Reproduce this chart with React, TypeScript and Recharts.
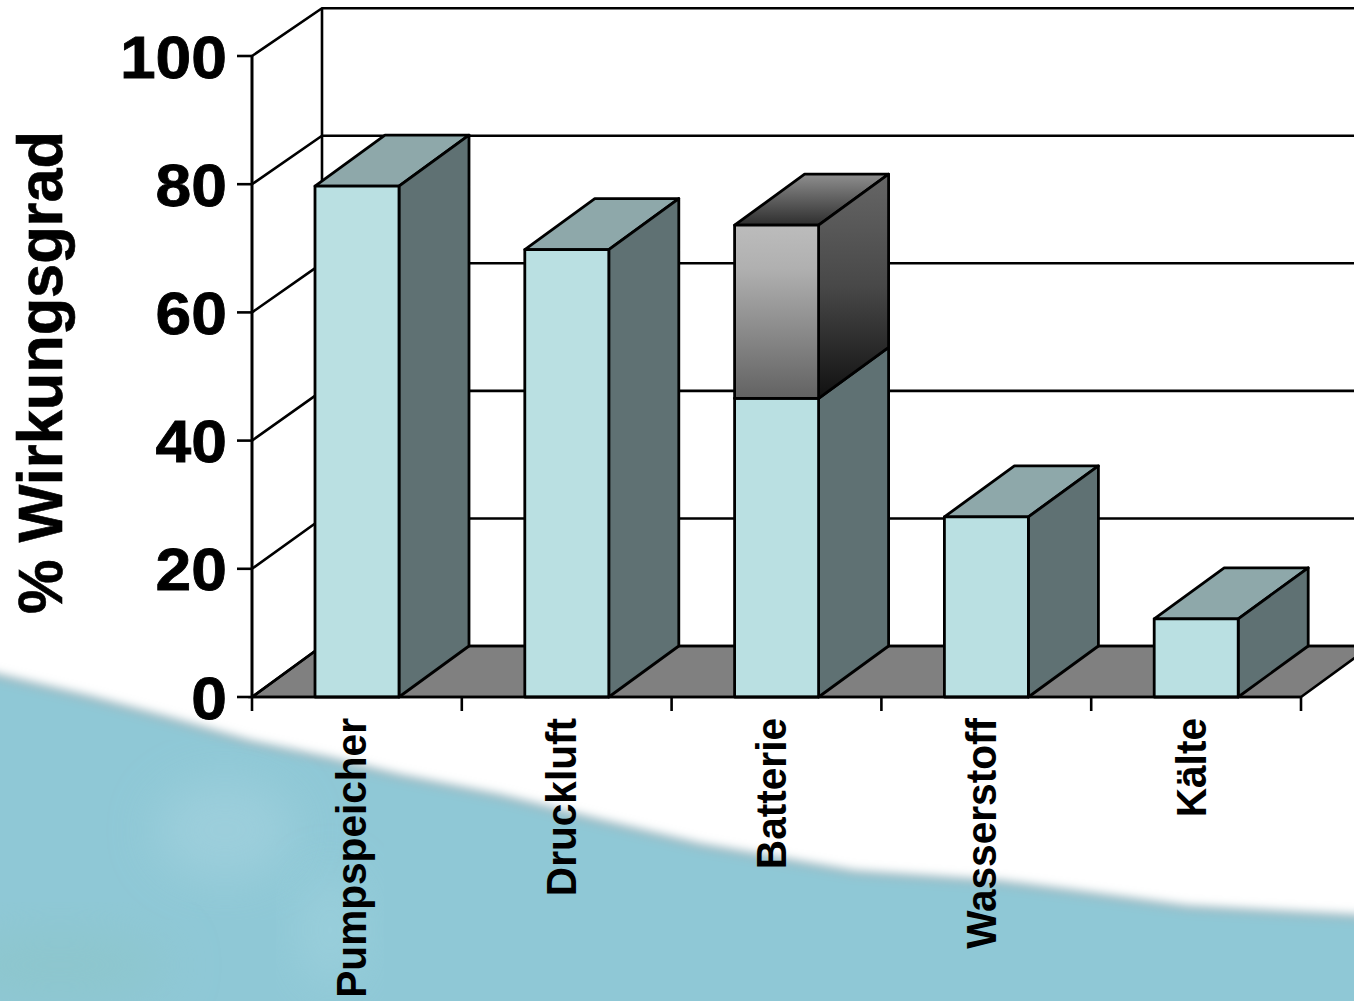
import React from 'react';
import { BarChart, Bar, XAxis, YAxis, CartesianGrid, Label } from 'recharts';

const categories = ['Pumpspeicher', 'Druckluft', 'Batterie', 'Wasserstoff', 'Kälte'];
const baseValues = [79.7, 69.8, 46.6, 28.1, 12.2];
const batteryValues = [0, 0, 27, 0, 0];
const yTicks = [0, 20, 40, 60, 80, 100];

const data = categories.map((name, i) => ({ name, base: baseValues[i], battery: batteryValues[i] }));

const W = 1354;
const H = 1001;
const LEFT = 252;
const TOP = 56;
const PLOT_W = 1049;
const PLOT_H = 641;
const DX = 70;
const DY = 51;
const SLOT = PLOT_W / categories.length;
const FONT = '"Liberation Sans", Arial, sans-serif';
const LINE = 2.6;

// back wall is very slightly shorter than the front edge
const backY = (y: number) => TOP + PLOT_H - DY - (TOP + PLOT_H - y) * 0.995;

// wall lines + floor, drawn per y tick
const gridLine = (props: any) => {
  const y = props.y1;
  const isFloor = Math.abs(y - (TOP + PLOT_H)) < 1;
  const isTop = Math.abs(y - TOP) < 1;
  const by = backY(y);
  return (
    <g key={props.key}>
      {isFloor && (
        <polygon
          points={`${LEFT},${y} ${LEFT + DX},${by} ${LEFT + PLOT_W + DX},${by} ${LEFT + PLOT_W},${y}`}
          fill="#808080"
          stroke="#000"
          strokeWidth={LINE}
        />
      )}
      {isTop && <line x1={LEFT + DX} y1={by} x2={LEFT + DX} y2={backY(TOP + PLOT_H)} stroke="#000" strokeWidth={LINE} />}
      <polyline points={`${LEFT},${y} ${LEFT + DX},${by} ${W},${by}`} fill="none" stroke="#000" strokeWidth={LINE} />
    </g>
  );
};

const Box = ({ x, y, width, height, front, side, top }: any) => {
  if (!height || height <= 0) return null;
  const r = x + width;
  const b = y + height;
  return (
    <g stroke="#000" strokeWidth={2.8} strokeLinejoin="round">
      <polygon points={`${x},${y} ${x + DX},${y - DY} ${r + DX},${y - DY} ${r},${y}`} fill={top} />
      <polygon points={`${r},${y} ${r + DX},${y - DY} ${r + DX},${b - DY} ${r},${b}`} fill={side} />
      <rect x={x} y={y} width={width} height={height} fill={front} />
    </g>
  );
};

const XTick = ({ x, payload }: any) => {
  const bottom = TOP + PLOT_H;
  const left = x - SLOT / 2;
  return (
    <g>
      <line x1={left} y1={bottom} x2={left} y2={bottom + 14} stroke="#000" strokeWidth={LINE} />
      {payload.index === categories.length - 1 && (
        <line x1={left + SLOT} y1={bottom} x2={left + SLOT} y2={bottom + 14} stroke="#000" strokeWidth={LINE} />
      )}
      <text
        transform={`translate(${x + 9.5},718) rotate(-90) scale(1,1.06)`}
        textAnchor="end"
        fontFamily={FONT}
        fontWeight="bold"
        fontSize={40.6}
        fill="#000"
      >
        {payload.value}
      </text>
    </g>
  );
};

const YTick = ({ y, payload }: any) => (
  <text
    transform={`translate(227,${y + 21.5}) scale(1.07,1)`}
    textAnchor="end"
    fontFamily={FONT}
    fontWeight="bold"
    fontSize={60}
    fill="#000"
    stroke="#000"
    strokeWidth={0.8}
  >
    {payload.value}
  </text>
);

const YTitle = () => (
  <text
    transform="translate(62,372.5) rotate(-90) scale(1,1.04)"
    textAnchor="middle"
    fontFamily={FONT}
    fontWeight="bold"
    fontSize={61.3}
    fill="#000"
    stroke="#000"
    strokeWidth={0.6}
  >
    % Wirkungsgrad
  </text>
);

// blue wave behind the chart
const WAVE =
  'M-20,671 L0,677 L88,698 L170,720 L250,743 L330,760 L400,777 L500,797 L600,822 L700,846 L854,873 L1000,883 L1070,892 L1187,908 L1354,917 L1380,919 L1380,1020 L-20,1020 Z';

const Backdrop = () => (
  <svg width={W} height={H} style={{ position: 'absolute', left: 0, top: 0 }}>
    <defs>
      <filter id="soft" x="-5%" y="-5%" width="110%" height="110%">
        <feGaussianBlur stdDeviation="5" />
      </filter>
      <filter id="softer" x="-40%" y="-40%" width="180%" height="180%">
        <feGaussianBlur stdDeviation="24" />
      </filter>
    </defs>
    <rect width={W} height={H} fill="#fff" />
    <path d={WAVE} fill="#8fc8d6" stroke="#9db8c0" strokeWidth={6} filter="url(#soft)" />
    <ellipse cx={225} cy={830} rx={70} ry={50} fill="#a2d1de" opacity={0.7} filter="url(#softer)" />
    <ellipse cx={330} cy={930} rx={30} ry={60} fill="#9fd2de" opacity={0.7} filter="url(#softer)" />
    <ellipse cx={60} cy={965} rx={110} ry={35} fill="#8dc6cd" filter="url(#softer)" />
  </svg>
);

export default function App() {
  return (
    <div style={{ position: 'absolute', left: 0, top: 0, width: W, height: H, overflow: 'hidden' }}>
      <Backdrop />
      <div style={{ position: 'absolute', left: 0, top: 0 }}>
        <BarChart
          width={W}
          height={H}
          data={data}
          margin={{ top: TOP, right: W - LEFT - PLOT_W, bottom: 0, left: 0 }}
          barSize={84}
        >
          <defs>
            <linearGradient id="gFront" x1="0" y1="0" x2="0" y2="1">
              <stop offset="0%" stopColor="#bcbcbc" />
              <stop offset="25%" stopColor="#b0b0b0" />
              <stop offset="100%" stopColor="#626262" />
            </linearGradient>
            <linearGradient id="gSide" x1="0" y1="0" x2="0" y2="1">
              <stop offset="0%" stopColor="#666666" />
              <stop offset="50%" stopColor="#484848" />
              <stop offset="100%" stopColor="#111111" />
            </linearGradient>
            <linearGradient id="gTop" x1="0" y1="0" x2="0" y2="1">
              <stop offset="0%" stopColor="#8e8e8e" />
              <stop offset="100%" stopColor="#2e2e2e" />
            </linearGradient>
          </defs>
          <CartesianGrid horizontal={gridLine} vertical={false} />
          <XAxis
            dataKey="name"
            interval={0}
            height={H - TOP - PLOT_H}
            axisLine={{ stroke: '#000', strokeWidth: LINE }}
            tickLine={false}
            tick={<XTick />}
          />
          <YAxis
            type="number"
            domain={[0, 100]}
            ticks={yTicks}
            width={LEFT}
            axisLine={{ stroke: '#000', strokeWidth: LINE + 0.4 }}
            tickLine={{ stroke: '#000', strokeWidth: LINE }}
            tickSize={15}
            tick={<YTick />}
          >
            <Label content={<YTitle />} />
          </YAxis>
          <Bar
            dataKey="base"
            stackId="a"
            isAnimationActive={false}
            shape={(p: any) => <Box {...p} front="#bae0e2" side="#5f7173" top="#8ea8aa" />}
          />
          <Bar
            dataKey="battery"
            stackId="a"
            isAnimationActive={false}
            shape={(p: any) => <Box {...p} front="url(#gFront)" side="url(#gSide)" top="url(#gTop)" />}
          />
        </BarChart>
      </div>
    </div>
  );
}
